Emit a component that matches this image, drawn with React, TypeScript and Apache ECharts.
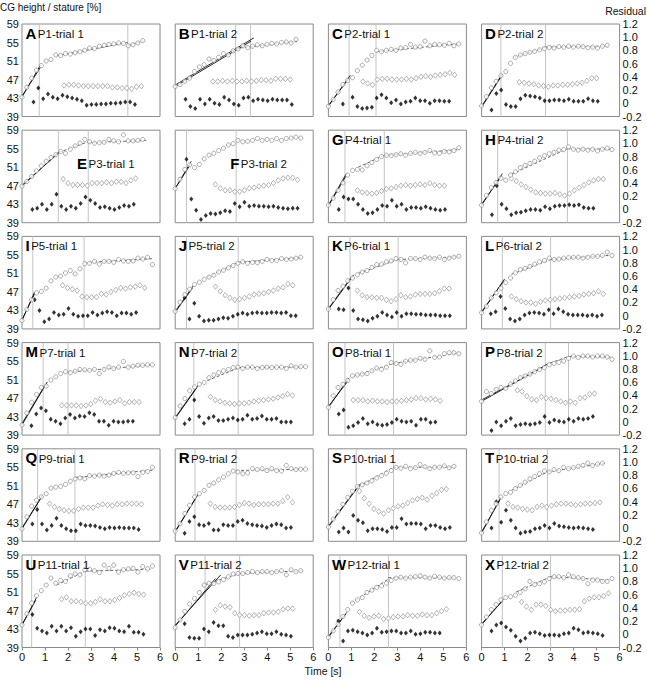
import React, { useEffect, useRef } from "react";
import * as echarts from "echarts";

const LETTERS = ["A","B","C","D","E","F","G","H","I","J","K","L","M","N","O","P","Q","R","S","T","U","V","W","X"];
const TITLES = ["P1-trial 1","P1-trial 2","P2-trial 1","P2-trial 2","P3-trial 1","P3-trial 2","P4-trial 1","P4-trial 2","P5-trial 1","P5-trial 2","P6-trial 1","P6-trial 2","P7-trial 1","P7-trial 2","P8-trial 1","P8-trial 2","P9-trial 1","P9-trial 2","P10-trial 1","P10-trial 2","P11-trial 1","P11-trial 2","P12-trial 1","P12-trial 2"];
const DT = 0.21; // sampling step [s]
const X_TICKS = [0, 1, 2, 3, 4, 5, 6];

// CG height / stature [%], sampled every DT from t = 0
const CG_HEIGHT: number[][] = [
  [43.2,45.3,47.3,49.0,50.0,51.0,51.3,52.3,52.2,52.6,52.5,52.8,53.0,53.3,53.8,53.7,54.2,54.4,54.6,54.7,54.9,54.8,54.3,54.5,54.9,55.4],
  [45.5,45.9,46.6,47.3,48.7,49.7,50.2,51.4,51.1,51.8,52.6,52.3,53.2,53.6,54.3,53.9,54.2,54.5,54.3,54.6,54.8,54.7,55.0,55.1,54.9,55.7],
  [41.2,42.7,44.3,45.9,46.8,47.4,48.9,50.1,51.2,52.2,53.3,53.0,53.3,53.5,53.3,53.8,53.9,54.6,54.0,54.1,55.3,54.3,54.6,54.5,54.4,54.8,54.3,54.7],
  [41.3,43.3,45.2,46.6,47.8,48.7,50.5,51.8,52.3,52.6,52.9,53.1,53.4,53.7,53.9,53.8,54.1,54.0,54.2,54.0,54.2,54.1,53.9,54.0,53.8,54.2,54.4],
  [46.9,47.9,49.0,50.2,51.3,52.3,53.1,53.7,54.4,54.0,54.9,55.6,56.2,57.0,56.5,56.2,56.3,56.4,57.0,56.7,56.5,58.0,56.7,56.7,56.8,57.0],
  [46.4,48.4,50.5,51.5,50.9,51.6,52.8,53.6,54.0,54.6,55.1,55.8,56.1,56.8,56.5,56.6,56.8,57.2,56.8,57.0,56.8,57.2,56.8,57.2,57.3,57.5,57.3],
  [42.8,44.3,46.0,47.6,49.3,50.3,50.5,50.4,51.3,52.0,52.7,53.3,53.6,53.5,53.7,53.9,53.6,54.0,54.2,54.0,54.2,54.6,54.1,54.0,54.4,54.3,54.6,55.2],
  [42.8,44.9,46.6,47.7,48.6,48.2,49.3,50.0,50.9,51.4,51.8,52.3,53.0,53.5,53.9,54.2,54.7,54.8,55.4,54.9,54.7,54.9,54.7,54.9,54.5,54.9,55.1,54.8],
  [40.8,43.2,45.3,46.8,47.1,47.8,49.4,50.2,50.4,51.1,51.6,50.9,52.0,53.1,53.2,53.6,53.0,53.6,53.6,53.4,54.0,53.7,53.6,53.7,54.3,54.1,54.5,52.9],
  [42.8,44.8,46.4,47.6,48.6,49.1,49.7,50.2,50.6,51.3,51.7,52.2,52.7,53.2,53.5,53.2,53.4,53.3,53.6,54.0,53.8,53.8,54.2,54.0,54.1,54.3,54.5],
  [43.3,45.3,47.3,48.2,49.4,50.0,50.7,51.3,51.6,52.3,52.9,53.0,53.5,53.7,54.2,54.0,53.3,54.2,54.2,54.0,54.5,54.3,54.2,54.5,54.0,54.3,54.5,54.7],
  [42.5,43.9,45.7,46.8,47.8,49.0,50.0,51.1,51.8,52.1,52.5,53.0,53.5,53.8,54.3,54.0,54.1,54.3,54.4,54.5,54.5,54.3,54.5,54.7,54.7,54.9,55.6,54.9],
  [41.2,43.8,46.1,47.8,49.3,49.6,50.9,51.6,52.3,52.7,52.5,52.8,53.2,53.1,53.0,53.2,52.3,53.2,53.7,53.4,53.7,54.9,53.7,53.9,54.1,54.1,54.2,54.2],
  [42.8,45.3,46.9,48.6,49.4,50.0,50.4,51.4,52.0,52.5,52.9,53.2,53.6,53.7,53.4,53.7,53.7,53.4,53.6,53.7,53.6,53.7,53.7,53.4,54.0,53.7,53.8,53.8],
  [45.0,47.5,49.3,50.0,50.8,51.8,52.0,52.2,52.3,52.9,53.5,53.2,53.7,54.7,54.5,54.3,55.0,55.2,55.2,55.6,55.4,57.2,55.8,55.9,56.6,56.8,56.8,56.6],
  [46.3,48.4,48.0,48.9,49.3,49.1,50.0,50.7,51.4,51.8,52.2,52.7,53.2,53.6,54.2,54.5,54.7,55.0,55.6,56.1,55.8,56.1,56.1,55.9,56.1,56.1,55.9,55.4],
  [41.7,44.3,46.6,47.9,48.6,49.3,50.5,50.7,50.9,51.3,52.0,52.5,52.7,52.5,53.2,53.1,53.3,53.1,53.3,53.7,53.9,53.7,53.8,53.8,53.0,53.9,54.1,55.0],
  [41.2,42.8,45.0,46.8,48.6,49.3,50.0,51.1,51.6,52.3,52.9,53.6,54.2,54.0,53.6,53.8,54.7,54.5,54.7,54.3,54.7,54.3,54.2,55.4,54.7,54.5,54.6,54.6],
  [42.1,43.8,45.4,47.0,48.5,49.8,50.8,51.2,51.6,52.1,52.7,53.2,53.7,54.3,55.0,54.8,55.2,54.7,54.9,55.6,55.1,54.7,55.0,55.0,55.3,54.9,55.2],
  [40.8,43.2,45.7,47.1,48.6,49.3,49.6,50.4,51.1,51.8,52.5,53.0,53.6,54.2,54.0,54.5,54.3,55.0,54.7,54.9,55.2,55.4,55.9,55.4,55.7,55.9],
  [43.9,46.3,48.6,50.2,51.3,52.5,54.0,52.9,53.5,53.3,54.5,54.9,54.7,55.8,55.9,55.6,55.2,56.8,56.1,56.8,55.3,55.8,56.0,56.1,55.3,56.5,56.0,56.6],
  [43.3,45.0,46.8,48.4,49.6,50.9,52.5,52.9,52.8,53.2,53.7,54.3,54.9,55.0,55.0,55.2,55.4,55.2,55.4,55.4,55.2,55.4,55.6,54.7,55.8,55.4,55.6],
  [41.2,42.6,44.0,45.7,47.2,48.6,49.3,49.8,50.9,51.4,52.0,52.3,52.9,53.5,54.0,54.2,54.0,54.2,54.3,54.5,54.2,54.0,54.4,54.2,54.0,54.1,54.1,53.9],
  [43.9,45.6,47.2,48.3,49.3,49.8,50.0,50.3,50.9,51.7,53.3,52.6,52.8,53.2,53.9,54.3,54.3,54.1,54.7,54.3,54.1,53.9,52.8,53.6,53.6,53.3,53.3,53.9],
];

// open diamonds: residual, first sample time and values (every DT)
const OPEN_START = [1.83,1.64,1.5,1.64,1.79,1.75,1.26,1.3,1.77,1.75,1.26,1.3,1.73,1.53,1.08,1.55,1.2,1.53,1.35,1.15,1.72,1.75,1.35,1.74];
const OPEN_RES: number[][] = [
  [0.27,0.28,0.28,0.27,0.26,0.26,0.26,0.26,0.26,0.26,0.24,0.24,0.23,0.23,0.22,0.25,0.26],
  [0.33,0.33,0.34,0.33,0.34,0.33,0.33,0.34,0.33,0.34,0.35,0.35,0.34,0.37,0.37,0.37,0.36],
  [0.33,0.30,0.28,0.36,0.37,0.37,0.36,0.36,0.36,0.37,0.36,0.38,0.40,0.41,0.40,0.42,0.43,0.44,0.46,0.43],
  [0.32,0.31,0.30,0.29,0.27,0.26,0.25,0.27,0.27,0.28,0.28,0.29,0.30,0.31,0.34,0.38,0.38],
  [0.46,0.40,0.37,0.37,0.37,0.36,0.40,0.40,0.40,0.41,0.40,0.42,0.42,0.40,0.44,0.47],
  [0.38,0.32,0.29,0.29,0.27,0.27,0.29,0.32,0.33,0.35,0.36,0.37,0.40,0.44,0.47,0.48,0.48,0.45],
  [0.29,0.26,0.25,0.24,0.25,0.28,0.31,0.32,0.34,0.36,0.37,0.36,0.37,0.38,0.37,0.40,0.37,0.36,0.36],
  [0.47,0.43,0.38,0.34,0.30,0.26,0.25,0.24,0.24,0.25,0.23,0.21,0.24,0.29,0.33,0.37,0.41,0.44,0.46,0.46],
  [0.46,0.42,0.40,0.38,0.29,0.28,0.28,0.28,0.33,0.32,0.36,0.39,0.42,0.41,0.43,0.44,0.46,0.42],
  [0.44,0.37,0.31,0.27,0.24,0.25,0.27,0.29,0.32,0.33,0.34,0.36,0.38,0.41,0.43,0.48,0.46],
  [0.38,0.31,0.28,0.28,0.27,0.27,0.24,0.22,0.25,0.31,0.28,0.29,0.32,0.33,0.33,0.33,0.34,0.37,0.41,0.41],
  [0.29,0.25,0.22,0.20,0.20,0.18,0.21,0.23,0.24,0.25,0.26,0.27,0.28,0.29,0.30,0.32,0.33,0.34,0.37,0.33],
  [0.25,0.25,0.25,0.25,0.24,0.25,0.27,0.32,0.35,0.30,0.29,0.31,0.33,0.28,0.30,0.30,0.30],
  [0.38,0.33,0.31,0.29,0.28,0.27,0.28,0.28,0.29,0.31,0.32,0.33,0.34,0.35,0.37,0.39,0.42,0.40],
  [0.33,0.33,0.33,0.31,0.32,0.31,0.31,0.30,0.31,0.31,0.32,0.33,0.34,0.36,0.36,0.34,0.35,0.34,0.32],
  [0.48,0.46,0.39,0.34,0.33,0.38,0.36,0.35,0.33,0.31,0.29,0.31,0.29,0.36,0.37,0.42,0.43],
  [0.37,0.32,0.29,0.27,0.26,0.26,0.29,0.31,0.31,0.31,0.34,0.36,0.35,0.34,0.36,0.36,0.37,0.37,0.37,0.36],
  [0.37,0.32,0.31,0.31,0.31,0.32,0.35,0.38,0.37,0.35,0.36,0.36,0.36,0.37,0.37,0.41,0.47,0.39],
  [0.56,0.45,0.37,0.29,0.25,0.22,0.27,0.30,0.33,0.34,0.38,0.42,0.44,0.46,0.43,0.49,0.53,0.58,0.59],
  [0.37,0.32,0.31,0.29,0.28,0.27,0.32,0.34,0.32,0.34,0.36,0.37,0.37,0.36,0.35,0.36,0.37,0.37,0.38,0.39],
  [0.53,0.56,0.50,0.50,0.49,0.47,0.47,0.49,0.53,0.50,0.50,0.52,0.55,0.59,0.61,0.63,0.61,0.60],
  [0.37,0.44,0.42,0.41,0.32,0.29,0.29,0.28,0.29,0.29,0.32,0.33,0.33,0.34,0.38,0.39,0.39],
  [0.34,0.28,0.25,0.27,0.28,0.23,0.24,0.26,0.27,0.27,0.29,0.28,0.28,0.30,0.29,0.29,0.32,0.35,0.38],
  [0.49,0.42,0.37,0.45,0.45,0.43,0.37,0.35,0.36,0.36,0.37,0.37,0.38,0.50,0.54,0.56,0.56,0.58,0.62],
];

// filled diamonds: residual, first sample time and values (every DT)
const FILL_START = [0.5,0.45,0.63,0.43,0.45,0.49,0.45,0.45,0.55,0.41,0.45,0.4,0.41,0.41,0.45,0.43,0.45,0.41,0.45,0.43,0.45,0.41,0.43,0.43];
const FILL_RES: (number | null)[][] = [
  [0.02,0.23,0.07,0.14,0.09,0.07,0.12,0.10,0.08,0.06,0.04,-0.03,-0.02,-0.02,-0.01,-0.01,0.0,0.0,0.01,0.02,0.02,-0.02],
  [0.06,-0.05,-0.08,0.06,-0.01,0.06,0.0,-0.02,0.09,0.05,-0.01,-0.03,0.08,0.09,0.04,0.06,0.05,0.04,0.06,0.05,0.05,0.05,-0.02],
  [-0.01,null,0.09,-0.05,-0.08,-0.07,-0.06,0.08,0.13,0.08,0.01,0.05,-0.01,0.02,0.03,0.08,0.04,0.04,0.0,0.04,0.04,0.03,0.03],
  [-0.1,0.15,0.2,-0.02,-0.05,-0.05,0.07,0.12,0.11,0.1,0.08,0.04,0.04,0.05,0.05,0.04,0.06,0.03,0.03,0.03,0.07,0.04,0.03],
  [0.0,0.02,0.08,0.0,0.08,0.23,0.05,0.0,0.05,0.02,0.09,0.19,0.14,0.09,0.03,0.04,0.02,0.0,0.03,0.06,0.05,0.08],
  [0.76,0.16,-0.01,-0.15,-0.09,-0.06,-0.07,-0.05,-0.02,-0.03,0.09,0.04,0.11,0.05,0.06,0.05,0.05,0.04,0.05,0.03,0.02,0.01,0.02,0.02],
  [0.0,0.19,0.16,0.16,0.08,0.0,-0.06,-0.05,0.0,0.06,0.05,0.14,0.05,0.08,0.0,0.03,0.03,0.02,0.04,0.02,0.0,-0.01,0.0],
  [-0.08,0.36,0.08,0.01,-0.08,-0.05,-0.04,-0.02,0.0,0.0,-0.01,0.04,0.01,0.05,0.06,0.06,0.07,0.06,0.07,0.03,0.02,0.02],
  [0.24,0.08,-0.09,-0.05,0.05,0.01,0.02,0.11,0.02,-0.01,0.0,0.0,0.05,0.01,0.04,0.06,0.05,0.0,0.04,0.04,0.02,0.05],
  [0.27,-0.05,0.19,-0.01,-0.08,-0.07,-0.07,-0.05,-0.03,-0.04,-0.01,0.02,0.04,0.02,0.04,0.05,0.04,0.04,0.05,0.05,0.04,0.05,0.0,0.0],
  [0.1,0.09,0.42,0.08,-0.05,-0.06,-0.08,-0.04,-0.01,0.05,0.01,-0.02,0.05,-0.01,0.03,0.03,0.02,0.02,0.01,0.01,0.01,0.0,0.0,0.0],
  [0.03,0.06,0.29,0.11,-0.05,-0.08,-0.05,0.01,0.04,0.05,0.04,0.02,0.09,0.03,0.1,0.06,0.02,0.01,0.01,0.01,0.0,0.01,-0.01,0.01],
  [-0.06,0.12,0.21,0.17,0.04,0.01,-0.03,0.06,0.11,0.06,0.09,0.08,0.14,0.11,0.01,0.01,-0.05,0.01,0.0,0.0,0.01,0.01],
  [-0.03,0.04,0.33,0.08,-0.02,0.06,0.08,0.02,0.02,0.04,0.06,0.03,0.04,0.1,0.04,0.05,0.09,0.04,0.04,0.05,0.0,0.0,0.0],
  [0.12,0.18,-0.08,-0.06,-0.01,0.05,-0.03,0.0,-0.04,-0.05,-0.04,-0.01,0.04,0.01,0.0,0.01,-0.05,0.04,0.04,-0.01,0.0],
  [-0.13,0.0,-0.06,0.01,0.05,-0.06,-0.04,-0.03,-0.04,-0.03,-0.01,0.08,-0.01,0.03,0.01,0.0,0.04,0.01,0.05,0.04,0.05,0.08],
  [0.06,0.28,0.06,-0.03,0.04,0.15,0.04,-0.01,-0.04,-0.04,0.06,0.04,0.04,0.03,0.01,-0.01,0.01,0.0,0.01,0.0,0.0,0.0,-0.02],
  [-0.08,0.1,0.17,0.05,0.04,0.07,-0.03,-0.03,0.05,0.04,0.04,0.1,0.12,0.07,0.05,0.04,0.03,0.01,0.04,0.06,0.05,0.0,0.01],
  [-0.06,0.0,-0.06,0.19,0.12,0.08,-0.04,-0.01,-0.01,-0.02,-0.05,0.01,0.01,0.14,0.06,0.07,0.07,0.06,-0.01,0.04,0.04,0.01,-0.01,0.01],
  [0.0,0.4,0.09,0.27,0.12,0.0,-0.08,-0.06,-0.05,-0.01,0.0,0.04,0.0,0.07,0.03,0.02,0.01,0.0,0.01,0.0,-0.01,-0.02],
  [0.30,0.09,0.05,0.02,0.12,0.05,0.12,0.05,0.10,-0.03,0.04,0.08,0.08,-0.02,0.07,0.05,0.10,0.09,0.05,0.04,0.12,0.03,0.03,0.0],
  [0.16,-0.05,-0.06,-0.06,0.08,0.04,0.18,0.13,0.13,-0.03,-0.05,-0.01,-0.01,-0.01,0.0,0.02,0.04,0.01,0.01,0.04,0.0,-0.01,-0.03],
  [0.2,-0.1,0.05,0.06,0.04,0.02,-0.01,0.02,0.09,0.03,0.04,0.05,0.05,0.02,0.02,0.05,0.0,0.01,0.03,0.03,0.02,0.02],
  [0.05,0.14,0.17,0.11,0.06,-0.03,-0.1,-0.06,0.02,0.03,0.01,-0.02,-0.01,-0.01,-0.02,0.01,0.02,0.09,0.07,0.02,0.03,0.02,0.01,-0.02],
];

// phase boundaries [s]
const BREAKS: number[][] = [
  [0.75,4.6],[2.62,3.27],[0.9,2.07],[0.84,2.78],[1.58,2.88],[0.49,2.65],[0.72,2.43],[0.7,3.73],
  [0.47,2.7],[0.49,2.74],[0.94,3.03],[0.9,3.0],[0.92,2.0],[0.81,2.74],[0.72,2.83],[2.77,3.78],
  [0.68,2.3],[0.86,2.65],[1.21,2.83],[0.76,2.86],[0.42,2.75],[1.3,2.8],[0.5,2.61],[0.9,3.0],
];

// regression lines: [t1, y1, t2, y2, kind] kind 0 = solid, 1 = dashed
const FITS: number[][][] = [
  [[0,43.2,0.8,50.1,0],[0,43.4,0.8,49.6,0],[1.5,52.1,4.6,55.0,1],[4.6,54.3,5.3,55.4,1]],
  [[0,45.8,3.42,56.0,0],[0,45.5,3.3,55.3,0],[2.6,53.7,5.3,55.2,1]],
  [[0,41.2,0.95,47.9,0],[0,41.4,0.9,47.3,0],[2.07,53.0,5.6,54.7,1]],
  [[0,41.2,0.9,48.2,0],[0,41.0,0.85,47.6,0],[1.4,51.8,2.78,54.0,1],[2.78,54.0,5.5,54.2,1]],
  [[0,46.9,1.65,54.5,0],[0,47.1,1.6,54.1,0],[1.6,54.2,2.88,56.5,1],[2.88,56.3,5.4,56.8,1]],
  [[0,46.4,0.7,52.3,0],[0,46.4,0.65,51.5,0]],
  [[0,42.8,0.78,49.6,0],[0,42.6,0.75,49.0,0],[1.3,51.0,2.43,53.6,1],[2.43,53.6,5.7,54.8,1]],
  [[0,42.8,0.9,49.6,0],[0,43.0,0.85,49.0,0],[1.3,49.5,3.73,55.0,1],[3.73,55.0,5.6,54.9,1]],
  [[0,40.8,0.55,47.0,0],[0,41.0,0.55,46.6,0],[2.7,53.3,5.7,54.2,1]],
  [[0,42.8,0.8,48.4,0],[0,42.6,0.75,47.8,0],[1.4,50.2,2.74,53.4,1],[2.74,53.4,5.5,54.4,1]],
  [[0,43.2,1.1,50.7,0],[0,43.4,1.0,50.2,0],[1.3,51.0,3.03,54.0,1],[3.03,54.0,5.7,54.6,1]],
  [[0,42.5,1.0,49.8,0],[0,42.7,0.95,49.3,0],[1.3,50.8,3.0,54.0,1],[3.0,54.0,5.6,54.9,1]],
  [[0,41.2,1.1,50.5,0],[0,41.5,1.0,49.8,0],[2.0,52.6,5.7,54.2,1]],
  [[0,42.8,1.0,49.8,0],[0,42.6,0.95,49.3,0],[1.4,50.8,2.74,53.5,1],[2.74,53.6,5.6,53.7,1]],
  [[0,45.0,0.9,51.4,0],[0,45.2,0.85,50.7,0],[1.0,51.5,2.83,54.5,1],[2.83,54.5,5.7,56.8,1]],
  [[0,46.3,2.85,54.3,0],[0,46.6,2.75,53.9,0],[2.77,54.2,3.78,56.0,1],[3.78,56.0,5.6,55.9,1]],
  [[0,41.7,0.9,49.0,0],[0,41.9,0.85,48.6,0],[2.3,52.8,5.7,54.4,1]],
  [[0,41.2,1.0,49.2,0],[0,41.0,0.95,48.8,0],[2.65,54.3,5.6,54.6,1]],
  [[0,42.1,1.4,51.5,0],[0,42.3,1.3,51.0,0],[1.3,50.8,2.83,55.0,1],[2.83,55.0,5.5,55.0,1]],
  [[0,40.8,0.85,48.6,0],[0,41.0,0.8,48.0,0],[1.3,50.0,2.86,54.0,1],[2.86,54.0,5.4,55.9,1]],
  [[0,43.8,0.64,49.9,0],[0,44.0,0.6,49.2,0],[1.5,52.5,2.75,55.5,1],[2.75,55.5,5.6,55.9,1]],
  [[0,43.8,1.98,54.7,0],[0,43.6,1.75,53.9,0],[1.3,52.6,2.8,55.0,1],[2.8,55.0,5.6,55.6,1]],
  [[0,41.2,0.8,46.6,0],[0,41.4,0.75,46.2,0],[1.0,48.6,2.61,53.8,1],[2.61,54.1,5.5,54.0,1]],
  [[0,43.9,0.95,49.5,0],[0,44.1,0.9,49.0,0],[1.5,51.0,3.0,54.3,1],[3.0,54.3,5.6,53.6,1]],
];

const CG_MIN = 39;
const CG_MAX = 59;
const CG_STEP = 4;
const RES_MIN = -0.2;
const RES_MAX = 1.2;
const RES_STEP = 0.2;

const FONT = '"Liberation Sans", Arial, Helvetica, sans-serif';
const BOLD_W: Record<string, number> = { A:722,B:722,C:722,D:722,E:667,F:611,G:778,H:722,I:278,J:556,K:722,L:611,M:833,N:722,O:778,P:667,Q:778,R:722,S:667,T:611,U:722,V:667,W:944,X:667 };

function buildOption() {
  const grids: any[] = [];
  const xAxes: any[] = [];
  const yAxes: any[] = [];
  const series: any[] = [];
  const graphics: any[] = [];
  const GW = 138, GH = 92.5;
  const letterSize = 15, titleSize = 11.5;

  for (let i = 0; i < 24; i++) {
    const col = i % 4, row = Math.floor(i / 4);
    const left = 22 + col * 153.2;
    const top = 24 + row * 106.2;
    const bottomRow = row === 5;
    grids.push({ left, top, width: GW, height: GH, show: true, borderColor: "#8a8a8a", borderWidth: 1, backgroundColor: "transparent" });
    xAxes.push({
      gridIndex: i, type: "value", min: 0, max: 6, interval: 1,
      axisLine: { show: false }, splitLine: { show: false },
      axisTick: { show: bottomRow, length: 3, lineStyle: { color: "#8a8a8a" } },
      axisLabel: { show: bottomRow, color: "#111", fontSize: 11, fontFamily: FONT, margin: 4,
        formatter: (v: number) => (X_TICKS.includes(Math.round(v)) ? String(Math.round(v)) : "") },
    });
    yAxes.push({
      gridIndex: i, type: "value", position: "left", min: 0, max: CG_MAX - CG_MIN, interval: CG_STEP,
      axisLine: { show: false }, splitLine: { show: false }, axisTick: { show: false },
      axisLabel: { show: col === 0, color: "#111", fontSize: 11, fontFamily: FONT, margin: 3,
        formatter: (v: number) => String(Math.round(v + CG_MIN)) },
    });
    yAxes.push({
      gridIndex: i, type: "value", position: "right", min: RES_MIN, max: RES_MAX, interval: RES_STEP,
      axisLine: { show: false }, splitLine: { show: false }, axisTick: { show: false },
      axisLabel: { show: col === 3, color: "#111", fontSize: 11, fontFamily: FONT, margin: 3,
        formatter: (v: number) => { const r = Math.round(v * 10) / 10; return r === 0 ? "0" : r.toFixed(1); } },
    });
    const yL = 2 * i, yR = 2 * i + 1;

    BREAKS[i].forEach((b) => {
      series.push({ type: "line", xAxisIndex: i, yAxisIndex: yL, data: [[b, 0], [b, CG_MAX - CG_MIN]], symbol: "none", silent: true,
        lineStyle: { color: "#c4c4c4", width: 1 }, z: 1 });
    });
    FITS[i].forEach((f) => {
      const dashed = f[4] === 1;
      series.push({ type: "line", xAxisIndex: i, yAxisIndex: yL, data: [[f[0], f[1] - CG_MIN], [f[2], f[3] - CG_MIN]], symbol: "none", silent: true,
        lineStyle: dashed ? { color: "#555", width: 0.9, type: [3, 2] } : { color: "#111", width: 0.9 }, z: 2 });
    });
    series.push({
      type: "scatter", xAxisIndex: i, yAxisIndex: yR, silent: true, z: 3,
      data: OPEN_RES[i].map((v, k) => [OPEN_START[i] + k * DT, v]),
      symbol: "diamond", symbolSize: [4.5, 5.5], itemStyle: { color: "#fff", borderColor: "#8a8a8a", borderWidth: 0.8 },
    });
    series.push({
      type: "scatter", xAxisIndex: i, yAxisIndex: yR, silent: true, z: 3,
      data: FILL_RES[i].map((v, k) => [FILL_START[i] + k * DT, v]).filter((p) => p[1] !== null),
      symbol: "diamond", symbolSize: [4, 5], itemStyle: { color: "#000" },
    });
    series.push({
      type: "scatter", xAxisIndex: i, yAxisIndex: yL, silent: true, z: 4,
      data: CG_HEIGHT[i].map((v, k) => [k * DT, v - CG_MIN]),
      symbol: "circle", symbolSize: 4.2, itemStyle: { color: "#fff", borderColor: "#7c7c7c", borderWidth: 0.8 },
    });

    // panel label
    const mid = LETTERS[i] === "E" || LETTERS[i] === "F";
    const lx = left + (mid ? 55 : 3.5);
    const ly = top + (mid ? 33 : 9);
    const lw = (BOLD_W[LETTERS[i]] * letterSize) / 1000;
    graphics.push({ type: "text", x: lx, y: ly, silent: true, z: 10,
      style: { text: LETTERS[i], font: `bold ${letterSize}px ${FONT}`, fill: "#000", verticalAlign: "middle", align: "left" } });
    graphics.push({ type: "text", x: lx + lw + 1.5, y: ly + 1, silent: true, z: 10,
      style: { text: TITLES[i], font: `${titleSize}px ${FONT}`, fill: "#111", verticalAlign: "middle", align: "left" } });
  }

  graphics.push({ type: "text", x: 0, y: 7, silent: true,
    style: { text: "CG height / stature [%]", font: `10px ${FONT}`, fill: "#111", verticalAlign: "middle", align: "left" } });
  graphics.push({ type: "text", x: 646, y: 11, silent: true,
    style: { text: "Residual", font: `10.5px ${FONT}`, fill: "#111", verticalAlign: "middle", align: "right" } });
  graphics.push({ type: "text", x: 323, y: 671, silent: true,
    style: { text: "Time [s]", font: `10.5px ${FONT}`, fill: "#111", verticalAlign: "middle", align: "center" } });

  return { animation: false, backgroundColor: "#fff", grid: grids, xAxis: xAxes, yAxis: yAxes, series, graphic: graphics };
}

export default function App() {
  const ref = useRef<HTMLDivElement>(null);
  useEffect(() => {
    if (!ref.current) return;
    const chart = echarts.init(ref.current, undefined, { renderer: "svg" });
    chart.setOption(buildOption() as any);
    return () => chart.dispose();
  }, []);
  return <div ref={ref} style={{ position: "absolute", left: 0, top: 0, width: 647, height: 680, background: "#fff" }} />;
}
